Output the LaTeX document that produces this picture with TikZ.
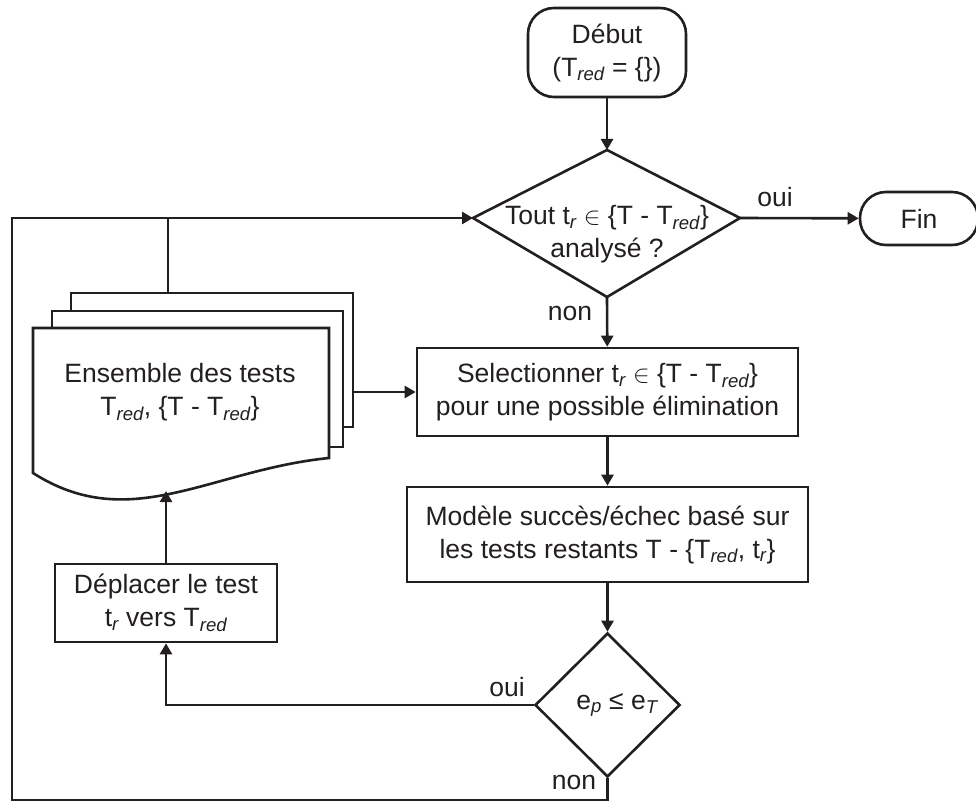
\documentclass[tikz,border=0pt]{standalone}
\usepackage{fontspec}
\setmainfont{Liberation Sans}
\usepackage{xcolor}
\usepackage{tikz}
\usetikzlibrary{shapes,arrows.meta}

\definecolor{ink}{HTML}{231F20}
\newcommand{\Tred}{T\textsubscript{\itshape red}}
\newcommand{\tsubr}{t\textsubscript{\itshape r}}

\begin{document}
\begin{tikzpicture}[
    x=1pt, y=-1pt,
    every node/.style={font=\fontsize{26.5}{33}\selectfont, text=ink, align=center},
    conn/.style={draw=ink, line width=2.6pt},
    arr/.style={conn, -{Triangle[length=11pt,width=12pt]}},
    box/.style={conn, rectangle, inner sep=0pt},
    term/.style={conn, rectangle, rounded corners=26pt, inner sep=0pt},
    decision/.style={conn, diamond, inner sep=0pt},
    sheet/.style={conn, fill=white, line join=miter}
]
\useasboundingbox (0,0) rectangle (976,802);

% Start and end terminals
\node[term, minimum width=158pt, minimum height=89pt] (start) at (607,52.5) {Début\\(\Tred{} = \{\})};
\node[term, minimum width=118pt, minimum height=53pt] (fin) at (919,218.5) {Fin};

% Top decision - drawn by hand, lower half is taller
\coordinate (qaN) at (607,150);
\coordinate (qaE) at (740,218);
\coordinate (qaS) at (607,297);
\coordinate (qaW) at (473,218);
\draw[conn, line join=miter] (qaN) -- (qaE) -- (qaS) -- (qaW) -- cycle;
\node (qatext) at (607,234) {Tout \tsubr{} $\in$ \{T - \Tred\}\\analysé ?};

% Process boxes
\node[box, minimum width=381pt, minimum height=88pt] (select) at (607.5,392) {Selectionner \tsubr{} $\in$ \{T - \Tred\}\\pour une possible élimination};
\node[box, minimum width=401pt, minimum height=95pt] (model) at (607.5,534.5) {Modèle succès/échec basé sur\\les tests restants T - \{\Tred, \tsubr\}};
\node[box, minimum width=222pt, minimum height=78pt] (move) at (166,603) {Déplacer le test\\\tsubr{} vers \Tred};

% Bottom decision
\node[decision, minimum width=145pt, minimum height=144pt] (qb) at (607.5,705) {};
\node (qbtext) at (617,705) {e\textsubscript{\itshape p} ≤ e\textsubscript{\itshape T}};

% Document stack - back sheets first
\foreach \l/\t/\r/\b in {71/293/353/427, 52/311/343/447} {
    \draw[sheet] (\l,\t) rectangle (\r,\b);
}
\draw[sheet] (33,473) -- (33,328) -- (329,328) -- (329,458)
    .. controls (210,470) and (130,535) .. (33,473) -- cycle;
\node (docs) at (180,392) {Ensemble des tests\\\Tred, \{T - \Tred\}};
\coordinate (docsE) at (353,392);
\coordinate (docsN) at (168,293);
\coordinate (docsS) at (166,491);
\coordinate (loopSW) at (12,800);

% Connectors
\draw[arr] (start) -- (qaN);
\draw[arr] (qaE) -- (fin);
\draw[arr] (qaS) -- (select);
\draw[arr] (docsE) -- (select);
\draw[arr] (select) -- (model);
\draw[arr] (model) -- (qb);
\draw[arr] (qb.west) -| (move.south);
\draw[arr] (move) -- (docsS);
\draw[arr] (qb.south) |- (loopSW) |- (qaW);
\draw[conn] (docsN) -- (docsN |- qaW);

% Branch labels
\node (ouiA) at (775,197) {oui};
\node (nonA) at (570,313) {non};
\node (ouiB) at (507,687) {oui};
\node (nonB) at (574,782) {non};

\end{tikzpicture}
\end{document}
